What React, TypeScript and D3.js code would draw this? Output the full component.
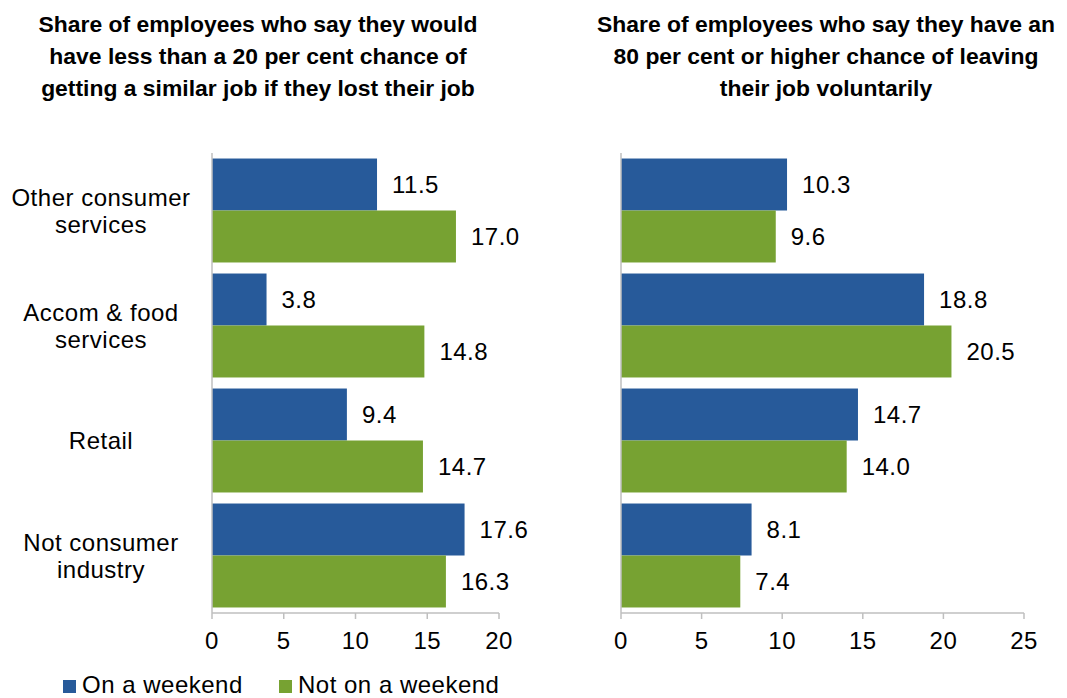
import React from "react";
import * as d3 from "d3";

const categories = ["Other consumer services", "Accom & food services", "Retail", "Not consumer industry"];
const categoryLines = [["Other consumer", "services"], ["Accom & food", "services"], ["Retail"], ["Not consumer", "industry"]];
const seriesNames = ["On a weekend", "Not on a weekend"];
const leftWeekend = [11.5, 3.8, 9.4, 17.6];
const leftNotWeekend = [17.0, 14.8, 14.7, 16.3];
const rightWeekend = [10.3, 18.8, 14.7, 8.1];
const rightNotWeekend = [9.6, 20.5, 14.0, 7.4];
const leftTicks = [0, 5, 10, 15, 20];
const rightTicks = [0, 5, 10, 15, 20, 25];
const leftTitle = ["Share of employees who say they would", "have less than a 20 per cent chance of", "getting a similar job if they lost their job"];
const rightTitle = ["Share of employees who say they have an", "80 per cent or higher chance of leaving", "their job voluntarily"];

const COLORS = ["#275A9A", "#77A232"];
const FONT = "'Liberation Sans', Arial, sans-serif";
const FS = 24;
const LS = 0.5;

function Panel({ x0, x1, maxV, ticks, a, b }: { x0: number; x1: number; maxV: number; ticks: number[]; a: number[]; b: number[] }) {
  const x = d3.scaleLinear().domain([0, maxV]).range([x0, x1]);
  const y = d3.scaleBand().domain(categories).range([153, 613]).paddingInner(0.096).paddingOuter(0.048);
  const sub = d3.scaleBand().domain(seriesNames).range([0, y.bandwidth()]);
  return (
    <g>
      {categories.map((c, i) => (
        <g key={c}>
          {[a[i], b[i]].map((v, j) => {
            const yy = (y(c) as number) + (sub(seriesNames[j]) as number);
            return (
              <g key={j}>
                <rect x={x(0)} y={yy} width={x(v) - x(0)} height={sub.bandwidth()} fill={COLORS[j]} />
                <text x={x(v) + 15} y={yy + sub.bandwidth() / 2} dy="0.36em" fontSize={FS} letterSpacing={LS} fontFamily={FONT} fill="#000">
                  {v.toFixed(1)}
                </text>
              </g>
            );
          })}
        </g>
      ))}
      <line x1={x(0)} x2={x(0)} y1={153} y2={613} stroke="#BFBFBF" strokeWidth={1.5} />
      <line x1={x(0)} x2={x(maxV)} y1={613} y2={613} stroke="#BFBFBF" strokeWidth={1.5} />
      {ticks.map((t) => (
        <g key={t}>
          <line x1={x(t)} x2={x(t)} y1={613} y2={619} stroke="#BFBFBF" strokeWidth={1.5} />
          <text x={x(t)} y={649} textAnchor="middle" fontSize={FS} letterSpacing={LS} fontFamily={FONT} fill="#000">
            {t}
          </text>
        </g>
      ))}
    </g>
  );
}

export default function App() {
  const y = d3.scaleBand().domain(categories).range([153, 613]).paddingInner(0.096).paddingOuter(0.048);
  return (
    <svg width={1067} height={698} style={{ position: "absolute", left: 0, top: 0, background: "#fff" }}>
      <rect width={1067} height={698} fill="#fff" />
      {leftTitle.map((t, i) => (
        <text key={i} x={258} y={32 + i * 32} textAnchor="middle" fontSize={22.9} fontWeight="bold" fontFamily={FONT} fill="#000">
          {t}
        </text>
      ))}
      {rightTitle.map((t, i) => (
        <text key={i} x={826} y={32 + i * 32} textAnchor="middle" fontSize={22.9} fontWeight="bold" fontFamily={FONT} fill="#000">
          {t}
        </text>
      ))}
      {categories.map((c, i) => {
        const lines = categoryLines[i];
        const cy = (y(c) as number) + y.bandwidth() / 2;
        return lines.map((l, k) => (
          <text key={c + k} x={101} y={cy + (k - (lines.length - 1) / 2) * 27} dy="0.36em" textAnchor="middle" fontSize={FS} letterSpacing={LS} fontFamily={FONT} fill="#000">
            {l}
          </text>
        ));
      })}
      <Panel x0={212} x1={499} maxV={20} ticks={leftTicks} a={leftWeekend} b={leftNotWeekend} />
      <Panel x0={621} x1={1024} maxV={25} ticks={rightTicks} a={rightWeekend} b={rightNotWeekend} />
      <g>
        <rect x={63} y={680} width={13} height={13} fill={COLORS[0]} />
        <text x={82} y={693} fontSize={FS} letterSpacing={LS} fontFamily={FONT} fill="#000">{seriesNames[0]}</text>
        <rect x={279} y={680} width={13} height={13} fill={COLORS[1]} />
        <text x={298} y={693} fontSize={FS} letterSpacing={LS} fontFamily={FONT} fill="#000">{seriesNames[1]}</text>
      </g>
    </svg>
  );
}
